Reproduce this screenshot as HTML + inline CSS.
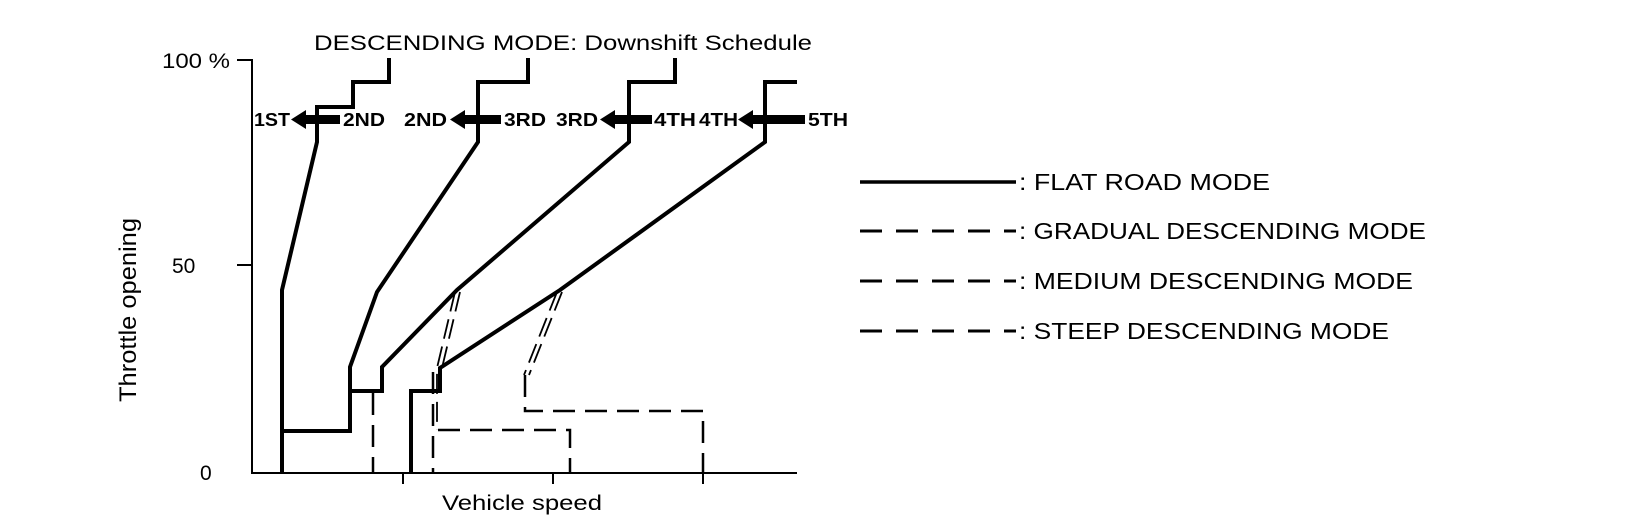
<!DOCTYPE html>
<html><head><meta charset="utf-8"><style>html,body{margin:0;padding:0;background:#fff}svg{display:block}</style></head>
<body>
<svg width="1632" height="528" viewBox="0 0 1632 528" xmlns="http://www.w3.org/2000/svg" font-family="Liberation Sans, Arial, sans-serif">
<rect width="1632" height="528" fill="#fff"/>
<g stroke="#000" stroke-width="2" fill="none">
<polyline points="237,60 252,60 252,473 797,473"/>
<line x1="237" y1="265" x2="252" y2="265"/>
<line x1="403" y1="473" x2="403" y2="484"/>
<line x1="553" y1="473" x2="553" y2="484"/>
<line x1="703" y1="473" x2="703" y2="484"/>
</g>
<g stroke="#000" stroke-width="4" fill="none" stroke-linejoin="miter">
<polyline points="282,473 282,290 317,142 317,107 353,107 353,82 389,82 389,58"/>
<polyline points="282,431 350,431 350,367 377,292 478,142 478,82 528,82 528,58"/>
<polyline points="350,391 382,391 382,367 457,290 629,142 629,82 675,82 675,58"/>
<polyline points="411,473 411,391 440,391 440,368 560,290 765,142 765,82 797,82"/>
</g>
<g stroke="#000" stroke-width="2.5" fill="none" stroke-dasharray="22,10">
<line x1="373" y1="393" x2="373" y2="473"/>
<line x1="433" y1="372" x2="433" y2="473"/>
<polyline points="438,430 570,430 570,473"/>
<polyline points="525,375 525,411 703,411 703,473"/>
</g>
<g stroke="#000" stroke-width="1.8" fill="none" stroke-dasharray="20,8">
<polyline points="455,292 437,368 437,430"/>
<polyline points="460,292 442,368"/>
<polyline points="557,292 524,375"/>
<polyline points="562,292 529,375"/>
</g>
<g fill="#000">
<rect x="302" y="115" width="38" height="9"/><polygon points="291,119.5 306,110 306,129"/>
<rect x="460" y="115" width="41" height="9"/><polygon points="450,119.5 465,110 465,129"/>
<rect x="610" y="115" width="42" height="9"/><polygon points="600,119.5 615,110 615,129"/>
<rect x="748" y="115" width="57" height="9"/><polygon points="738,119.5 753,110 753,129"/>
</g>
<g font-size="18" font-weight="bold" fill="#000">
<text x="254" y="126" textLength="36" lengthAdjust="spacingAndGlyphs">1ST</text><text x="343" y="126" textLength="42" lengthAdjust="spacingAndGlyphs">2ND</text>
<text x="404" y="126" textLength="43" lengthAdjust="spacingAndGlyphs">2ND</text><text x="504" y="126" textLength="42" lengthAdjust="spacingAndGlyphs">3RD</text>
<text x="556" y="126" textLength="42" lengthAdjust="spacingAndGlyphs">3RD</text><text x="654" y="126" textLength="42" lengthAdjust="spacingAndGlyphs">4TH</text>
<text x="699" y="126" textLength="39" lengthAdjust="spacingAndGlyphs">4TH</text><text x="808" y="126" textLength="40" lengthAdjust="spacingAndGlyphs">5TH</text>
</g>
<g font-size="21" fill="#000">
<text x="314" y="50" textLength="498" lengthAdjust="spacingAndGlyphs">DESCENDING MODE: Downshift Schedule</text>
<text x="162" y="68" textLength="68" lengthAdjust="spacingAndGlyphs">100 %</text>
<text x="172" y="273">50</text>
<text x="200" y="480">0</text>
<text x="442" y="510" textLength="160" lengthAdjust="spacingAndGlyphs">Vehicle speed</text>
<text transform="translate(136,310) rotate(-90)" text-anchor="middle" textLength="184" lengthAdjust="spacingAndGlyphs" font-size="24">Throttle opening</text>
</g>
<line x1="860" y1="182" x2="1016" y2="182" stroke="#000" stroke-width="3.5"/>
<g stroke="#000" stroke-width="3" stroke-dasharray="22,14">
<line x1="860" y1="231" x2="1016" y2="231"/>
<line x1="860" y1="281" x2="1016" y2="281"/>
<line x1="860" y1="331" x2="1016" y2="331"/>
</g>
<g font-size="23" fill="#000">
<text x="1019" y="190" textLength="251" lengthAdjust="spacingAndGlyphs">: FLAT ROAD MODE</text>
<text x="1019" y="239" textLength="407" lengthAdjust="spacingAndGlyphs">: GRADUAL DESCENDING MODE</text>
<text x="1019" y="289" textLength="394" lengthAdjust="spacingAndGlyphs">: MEDIUM DESCENDING MODE</text>
<text x="1019" y="339" textLength="370" lengthAdjust="spacingAndGlyphs">: STEEP DESCENDING MODE</text>
</g>
</svg>
</body></html>
